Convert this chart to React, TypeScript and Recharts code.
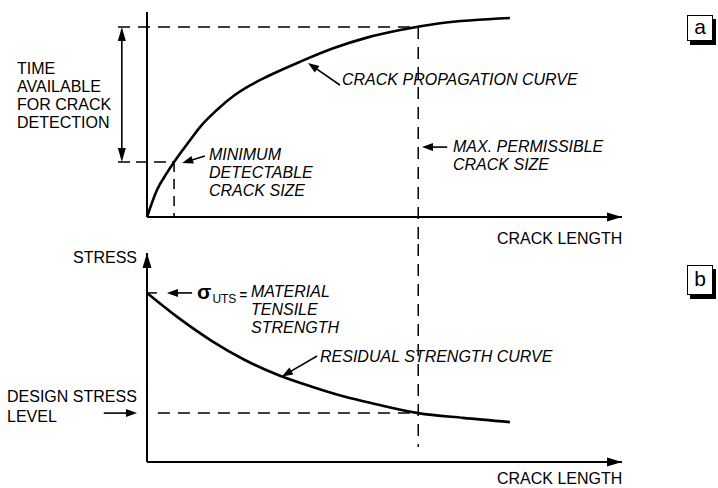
import { LineChart, Line, XAxis, YAxis, ReferenceLine } from 'recharts';

// (a) crack propagation curve: crack length vs time
const propCrackLength = [0, 2.1, 4.2, 5.7, 9.1, 11.2, 14.7, 18.2, 21.7, 25.2, 32.2, 39.2, 46.3, 53.3, 61.7, 76.4];
const propTime = [0, 13.2, 21.5, 26.8, 37.6, 44.0, 52.2, 59.0, 64.2, 68.4, 75.7, 82.3, 87.5, 91.2, 94.5, 97.1];

// (b) residual strength curve: crack length vs stress
const resCrackLength = [0, 6.5, 13.6, 20.6, 27.6, 34.7, 41.7, 48.0, 57.1, 66.5, 76.4];
const resStress = [80.9, 69.2, 58.0, 48.8, 41.6, 36.0, 31.2, 27.8, 23.4, 21.1, 19.1];

// key levels
const minDetectableSize = 5.7;
const minDetectableTime = 26.8;
const maxPermissibleSize = 57.1;
const maxPermissibleTime = 92.7;
const utsStress = 80.9;
const designStress = 23.4;

const propData = propCrackLength.map((x, i) => ({ x, y: propTime[i] }));
const resData = resCrackLength.map((x, i) => ({ x, y: resStress[i] }));

const W = 718;
const H = 244;
const FONT = '"Liberation Sans", Arial, Helvetica, sans-serif';
const DASH = '12 8';

const head = (tx: number, ty: number, fx: number, fy: number, len: number, half: number) => {
  const a = Math.atan2(ty - fy, tx - fx);
  const bx = tx - len * Math.cos(a);
  const by = ty - len * Math.sin(a);
  const pts = [
    [tx, ty],
    [bx + half * Math.sin(a), by - half * Math.cos(a)],
    [bx - half * Math.sin(a), by + half * Math.cos(a)],
  ];
  return { bx, by, pts: pts.map((p) => p.join(',')).join(' ') };
};

// arrow drawn from (x1,y1) to (x2,y2), head at the end (and at the start if both)
const arrow = (len: number, half: number, width: number, both = false) => (p: any) => {
  const { x1, y1, x2, y2 } = p;
  const end = head(x2, y2, x1, y1, len, half);
  const start = both ? head(x1, y1, x2, y2, len, half) : null;
  return (
    <g>
      <line
        x1={start ? start.bx : x1}
        y1={start ? start.by : y1}
        x2={end.bx + (x2 - end.bx) * 0.3}
        y2={end.by + (y2 - end.by) * 0.3}
        stroke="#000"
        strokeWidth={width}
      />
      <polygon points={end.pts} fill="#000" />
      {start && <polygon points={start.pts} fill="#000" />}
    </g>
  );
};

const pointer = arrow(11, 4, 1.6);
const axisArrow = arrow(15, 4.5, 2);

const Text = ({ left, top, children, italic, lh = 18, size = 16 }: any) => (
  <div
    style={{
      position: 'absolute',
      left,
      top,
      fontFamily: FONT,
      fontSize: size,
      lineHeight: `${lh}px`,
      fontStyle: italic ? 'italic' : 'normal',
      whiteSpace: 'pre',
      color: '#000',
    }}
  >
    {children}
  </div>
);

const Tag = ({ top, height, letter }: any) => (
  <div
    style={{
      position: 'absolute',
      left: 687,
      top,
      width: 24,
      height,
      border: '1.5px solid #000',
      boxShadow: '3px 4px 0 #000',
      background: '#fff',
      fontFamily: FONT,
      fontSize: 21,
      lineHeight: `${height - 2}px`,
      textAlign: 'center',
    }}
  >
    {letter}
  </div>
);

const solid = { stroke: '#000', strokeWidth: 2, ifOverflow: 'visible' } as const;
const dashed = { stroke: '#000', strokeWidth: 1.5, strokeDasharray: DASH, ifOverflow: 'visible' } as const;

export default function App() {
  return (
    <div style={{ position: 'absolute', left: 0, top: 0, width: W, height: 488, background: '#fff' }}>
      <div style={{ position: 'absolute', left: 0, top: 0 }}>
        <LineChart width={W} height={H} data={propData} margin={{ top: 12, right: 96, bottom: 27, left: 147 }}>
          <XAxis type="number" dataKey="x" domain={[0, 100]} hide />
          <YAxis type="number" domain={[0, 100]} hide />
          <ReferenceLine segment={[{ x: 0, y: 0 }, { x: 100, y: 0 }]} {...solid} />
          <ReferenceLine segment={[{ x: 0, y: 0 }, { x: 0, y: 100 }]} {...solid} />
          <ReferenceLine segment={[{ x: 96, y: 0 }, { x: 100, y: 0 }]} shape={axisArrow} ifOverflow="visible" />
          <ReferenceLine
            segment={[{ x: -6.1, y: maxPermissibleTime }, { x: maxPermissibleSize, y: maxPermissibleTime }]}
            {...dashed}
          />
          <ReferenceLine
            segment={[{ x: maxPermissibleSize, y: maxPermissibleTime }, { x: maxPermissibleSize, y: -13.2 }]}
            {...dashed}
          />
          <ReferenceLine
            segment={[{ x: -6.1, y: minDetectableTime }, { x: minDetectableSize, y: minDetectableTime }]}
            {...dashed} strokeDasharray="12 6"
          />
          <ReferenceLine
            segment={[{ x: minDetectableSize, y: minDetectableTime }, { x: minDetectableSize, y: 0 }]}
            {...dashed} strokeDasharray="10 7"
          />
          <ReferenceLine
            segment={[{ x: -5.3, y: maxPermissibleTime }, { x: -5.3, y: minDetectableTime }]}
            shape={arrow(14, 4, 1.6, true)} ifOverflow="visible"
          />
          <ReferenceLine segment={[{ x: 40.6, y: 64.4 }, { x: 33.9, y: 75.1 }]} shape={pointer} ifOverflow="visible" />
          <ReferenceLine segment={[{ x: 12.2, y: 29.8 }, { x: 7.4, y: 26.3 }]} shape={pointer} ifOverflow="visible" />
          <ReferenceLine segment={[{ x: 63.2, y: 34.1 }, { x: 57.9, y: 34.1 }]} shape={pointer} ifOverflow="visible" />
          <Line type="monotone" dataKey="y" stroke="#000" strokeWidth={2.6} dot={false} isAnimationActive={false} />
        </LineChart>
      </div>
      <div style={{ position: 'absolute', left: 0, top: H }}>
        <LineChart width={W} height={H} data={resData} margin={{ top: 9, right: 96, bottom: 26, left: 147 }}>
          <XAxis type="number" dataKey="x" domain={[0, 100]} hide />
          <YAxis type="number" domain={[0, 100]} hide />
          <ReferenceLine segment={[{ x: 0, y: 0 }, { x: 100, y: 0 }]} {...solid} />
          <ReferenceLine segment={[{ x: 0, y: 0 }, { x: 0, y: 100 }]} {...solid} />
          <ReferenceLine segment={[{ x: 96, y: 0 }, { x: 100, y: 0 }]} shape={axisArrow} ifOverflow="visible" />
          <ReferenceLine segment={[{ x: 0, y: 93 }, { x: 0, y: 100 }]} shape={axisArrow} ifOverflow="visible" />
          <ReferenceLine
            segment={[{ x: maxPermissibleSize, y: 104.3 }, { x: maxPermissibleSize, y: 7.2 }]}
            {...dashed}
          />
          <ReferenceLine
            segment={[{ x: 2.3, y: designStress }, { x: maxPermissibleSize, y: designStress }]}
            {...dashed}
          />
          <ReferenceLine
            segment={[{ x: 0, y: utsStress }, { x: 2.1, y: utsStress }]}
            {...dashed} strokeDasharray={undefined}
          />
          <ReferenceLine segment={[{ x: 9.5, y: utsStress }, { x: 4.2, y: utsStress }]} shape={pointer} ifOverflow="visible" />
          <ReferenceLine segment={[{ x: 35.8, y: 50.7 }, { x: 28.4, y: 40.9 }]} shape={pointer} ifOverflow="visible" />
          <ReferenceLine segment={[{ x: -9.1, y: designStress }, { x: -2.1, y: designStress }]} shape={pointer} ifOverflow="visible" />
          <Line type="monotone" dataKey="y" stroke="#000" strokeWidth={2.6} dot={false} isAnimationActive={false} />
        </LineChart>
      </div>

      <Text left={17} top={60}>{'TIME\nAVAILABLE\nFOR CRACK\nDETECTION'}</Text>
      <Text left={342} top={71} italic>CRACK PROPAGATION CURVE</Text>
      <Text left={209} top={146} italic>{'MINIMUM\nDETECTABLE\nCRACK SIZE'}</Text>
      <Text left={453} top={138} italic>{'MAX. PERMISSIBLE\nCRACK SIZE'}</Text>
      <Text left={497} top={230}>CRACK LENGTH</Text>

      <Text left={73} top={249}>STRESS</Text>
      <div style={{ position: 'absolute', left: 197, top: 281, fontFamily: FONT, whiteSpace: 'pre', lineHeight: '22px' }}>
        <span style={{ fontSize: 21, fontWeight: 'bold' }}>σ</span>
        <span style={{ fontSize: 12, position: 'relative', top: 4, marginLeft: 1 }}>UTS</span>
        <span style={{ fontSize: 13, fontWeight: 'bold', marginLeft: 3 }}>=</span>
      </div>
      <Text left={251} top={283} italic>{'MATERIAL\nTENSILE\nSTRENGTH'}</Text>
      <Text left={320} top={348} italic>RESIDUAL STRENGTH CURVE</Text>
      <Text left={7} top={387} lh={20}>{'DESIGN STRESS\nLEVEL'}</Text>
      <Text left={497} top={470}>CRACK LENGTH</Text>

      <Tag top={15} height={24} letter="a" />
      <Tag top={265} height={28} letter="b" />
    </div>
  );
}
